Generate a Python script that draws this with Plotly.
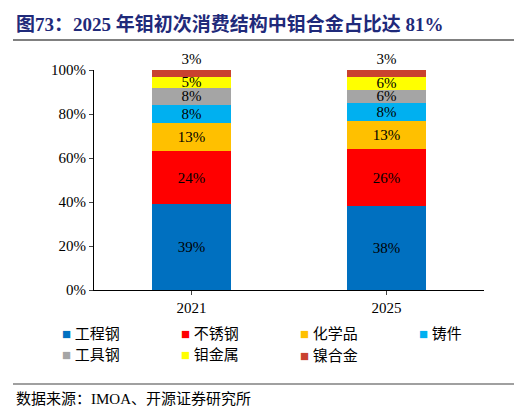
import plotly.graph_objects as go

years = ["2021", "2025"]
series = ["工程钢", "不锈钢", "化学品", "铸件", "工具钢", "钼金属", "镍合金"]
values = {
    "工程钢": [39, 38],
    "不锈钢": [24, 26],
    "化学品": [13, 13],
    "铸件": [8, 8],
    "工具钢": [8, 6],
    "钼金属": [5, 6],
    "镍合金": [3, 3],
}
colors = ["#0070C0", "#FF0000", "#FFC000", "#00B0F0", "#A5A5A5", "#FFFF00", "#C9422F"]
yticks = [0, 20, 40, 60, 80, 100]

F = "Liberation Serif, Times New Roman, Noto Sans CJK SC, serif"
W, H, L, R, T, B = 522, 406, 86, 46, 62, 124
pw, ph = W - L - R, H - T - B

def px(x):
    return (x - L) / pw

def py(y):
    return (H - B - y) / ph

fig = go.Figure()
for i, (s, c) in enumerate(zip(series, colors)):
    last = i == len(series) - 1
    fig.add_bar(x=years, y=values[s], name=s, marker=dict(color=c, line=dict(width=0)),
                text=[f"{v}%" for v in values[s]],
                textposition="outside" if last else "inside",
                insidetextanchor="middle", textangle=0, cliponaxis=False,
                textfont=dict(family=F, size=15, color="black"), showlegend=False)

anns = [
    dict(text="<b>图73：2025 年钼初次消费结构中钼合金占比达 81%</b>", xref="paper", yref="paper",
         x=px(6), y=py(16), xanchor="left", yanchor="middle", showarrow=False,
         font=dict(family=F, size=19, color="#1F2A7A")),
    dict(text="数据来源：IMOA、开源证券研究所", xref="paper", yref="paper",
         x=px(6), y=py(391), xanchor="left", yanchor="middle", showarrow=False,
         font=dict(family=F, size=15, color="black")),
]
colx = [52, 171, 290, 409]
rowy = [326, 347]
for i, (s, c) in enumerate(zip(series, colors)):
    x0 = colx[i % 4]
    y0 = rowy[i // 4]
    anns.append(dict(text=f"<span style='color:{c}'>■</span> {s}", xref="paper", yref="paper",
                     x=px(x0), y=py(y0), xanchor="left", yanchor="middle", showarrow=False,
                     font=dict(family=F, size=15, color="black")))

fig.update_layout(
    barmode="stack", bargap=0.59, width=W, height=H,
    margin=dict(l=L, r=R, t=T, b=B),
    paper_bgcolor="white", plot_bgcolor="white",
    uniformtext=dict(minsize=14, mode="show"),
    font=dict(family=F, size=15, color="black"),
    showlegend=False,
    xaxis=dict(showline=True, linecolor="black", ticks="outside", ticklen=4,
               tickfont=dict(family=F, size=15)),
    yaxis=dict(range=[0, 100], tickvals=yticks, ticktext=[f"{v}%" for v in yticks],
               showline=True, linecolor="black", ticks="outside", ticklen=4,
               showgrid=False, tickfont=dict(family=F, size=15), zeroline=False),
    shapes=[
        dict(type="line", xref="paper", yref="paper", x0=px(5), x1=px(516), y0=py(32), y1=py(32),
             line=dict(color="#808080", width=2)),
        dict(type="line", xref="paper", yref="paper", x0=px(5), x1=px(516), y0=py(376), y1=py(376),
             line=dict(color="#808080", width=1.5)),
    ],
    annotations=anns,
)
fig.write_html("out.html")
